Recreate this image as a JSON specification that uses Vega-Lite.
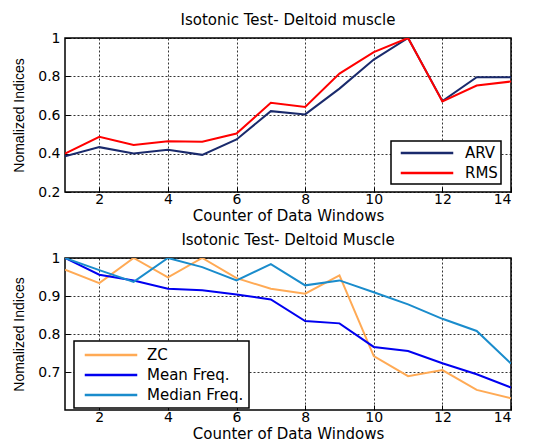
{
  "$schema": "https://vega.github.io/schema/vega-lite/v6.json",
  "background": "white",
  "padding": {"left": 11, "top": 12, "right": 14, "bottom": 2},
  "spacing": 8,
  "config": {
    "font": "DejaVu Sans",
    "view": {"stroke": "black", "strokeWidth": 1.5},
    "title": {"font": "DejaVu Sans", "fontSize": 15, "fontWeight": "normal", "color": "black", "offset": 3},
    "axis": {
      "labelFont": "DejaVu Sans",
      "labelFontSize": 14,
      "labelColor": "black",
      "titleFont": "DejaVu Sans",
      "titleFontSize": 15,
      "titleFontWeight": "normal",
      "titleColor": "black",
      "domain": false,
      "tickColor": "black",
      "tickSize": -5,
      "tickWidth": 1,
      "labelPadding": 10,
      "grid": true,
      "gridColor": "black",
      "gridDash": [2, 2],
      "gridOpacity": 1,
      "gridWidth": 0.8
    },
    "axisX": {"labelPadding": 5, "titlePadding": 2},
    "axisY": {"titleFont": "Liberation Sans", "titleFontSize": 14, "titlePadding": 11},
    "legend": {
      "labelFont": "DejaVu Sans",
      "labelFontSize": 15,
      "labelColor": "black",
      "strokeColor": "black",
      "strokeWidth": 1.5,
      "fillColor": "white",
      "symbolType": "M-3.5,0H3.5",
      "symbolStrokeWidth": 2.5,
      "symbolSize": 225,
      "rowPadding": 3,
      "title": null
    }
  },
  "datasets": {
    "amplitude": [
      {"window": 1, "index": "ARV", "value": 0.385},
      {"window": 2, "index": "ARV", "value": 0.433},
      {"window": 3, "index": "ARV", "value": 0.400},
      {"window": 4, "index": "ARV", "value": 0.420},
      {"window": 5, "index": "ARV", "value": 0.393},
      {"window": 6, "index": "ARV", "value": 0.473},
      {"window": 7, "index": "ARV", "value": 0.620},
      {"window": 8, "index": "ARV", "value": 0.603},
      {"window": 9, "index": "ARV", "value": 0.737},
      {"window": 10, "index": "ARV", "value": 0.888},
      {"window": 11, "index": "ARV", "value": 1.0},
      {"window": 12, "index": "ARV", "value": 0.672},
      {"window": 13, "index": "ARV", "value": 0.796},
      {"window": 14, "index": "ARV", "value": 0.796},
      {"window": 1, "index": "RMS", "value": 0.400},
      {"window": 2, "index": "RMS", "value": 0.487},
      {"window": 3, "index": "RMS", "value": 0.444},
      {"window": 4, "index": "RMS", "value": 0.464},
      {"window": 5, "index": "RMS", "value": 0.461},
      {"window": 6, "index": "RMS", "value": 0.504},
      {"window": 7, "index": "RMS", "value": 0.663},
      {"window": 8, "index": "RMS", "value": 0.642},
      {"window": 9, "index": "RMS", "value": 0.815},
      {"window": 10, "index": "RMS", "value": 0.927},
      {"window": 11, "index": "RMS", "value": 1.0},
      {"window": 12, "index": "RMS", "value": 0.670},
      {"window": 13, "index": "RMS", "value": 0.753},
      {"window": 14, "index": "RMS", "value": 0.774}
    ],
    "frequency": [
      {"window": 1, "index": "ZC", "value": 0.969},
      {"window": 2, "index": "ZC", "value": 0.934},
      {"window": 3, "index": "ZC", "value": 1.0},
      {"window": 4, "index": "ZC", "value": 0.949},
      {"window": 5, "index": "ZC", "value": 1.0},
      {"window": 6, "index": "ZC", "value": 0.947},
      {"window": 7, "index": "ZC", "value": 0.919},
      {"window": 8, "index": "ZC", "value": 0.906},
      {"window": 9, "index": "ZC", "value": 0.954},
      {"window": 10, "index": "ZC", "value": 0.742},
      {"window": 11, "index": "ZC", "value": 0.689},
      {"window": 12, "index": "ZC", "value": 0.705},
      {"window": 13, "index": "ZC", "value": 0.653},
      {"window": 14, "index": "ZC", "value": 0.631},
      {"window": 1, "index": "Mean Freq.", "value": 1.0},
      {"window": 2, "index": "Mean Freq.", "value": 0.956},
      {"window": 3, "index": "Mean Freq.", "value": 0.941},
      {"window": 4, "index": "Mean Freq.", "value": 0.919},
      {"window": 5, "index": "Mean Freq.", "value": 0.915},
      {"window": 6, "index": "Mean Freq.", "value": 0.904},
      {"window": 7, "index": "Mean Freq.", "value": 0.891},
      {"window": 8, "index": "Mean Freq.", "value": 0.834},
      {"window": 9, "index": "Mean Freq.", "value": 0.828},
      {"window": 10, "index": "Mean Freq.", "value": 0.766},
      {"window": 11, "index": "Mean Freq.", "value": 0.755},
      {"window": 12, "index": "Mean Freq.", "value": 0.723},
      {"window": 13, "index": "Mean Freq.", "value": 0.694},
      {"window": 14, "index": "Mean Freq.", "value": 0.659},
      {"window": 1, "index": "Median Freq.", "value": 1.0},
      {"window": 2, "index": "Median Freq.", "value": 0.968},
      {"window": 3, "index": "Median Freq.", "value": 0.937},
      {"window": 4, "index": "Median Freq.", "value": 1.0},
      {"window": 5, "index": "Median Freq.", "value": 0.976},
      {"window": 6, "index": "Median Freq.", "value": 0.941},
      {"window": 7, "index": "Median Freq.", "value": 0.984},
      {"window": 8, "index": "Median Freq.", "value": 0.928},
      {"window": 9, "index": "Median Freq.", "value": 0.941},
      {"window": 10, "index": "Median Freq.", "value": 0.910},
      {"window": 11, "index": "Median Freq.", "value": 0.878},
      {"window": 12, "index": "Median Freq.", "value": 0.840},
      {"window": 13, "index": "Median Freq.", "value": 0.808},
      {"window": 14, "index": "Median Freq.", "value": 0.722}
    ]
  },
  "vconcat": [
    {
      "title": "Isotonic Test- Deltoid muscle",
      "width": 446,
      "height": 154,
      "data": {"name": "amplitude"},
      "mark": {"type": "line", "strokeWidth": 2, "clip": true},
      "encoding": {
        "x": {
          "field": "window",
          "type": "quantitative",
          "scale": {"domain": [1, 14], "nice": false},
          "axis": {"title": "Counter of Data Windows", "values": [2, 4, 6, 8, 10, 12, 14]}
        },
        "y": {
          "field": "value",
          "type": "quantitative",
          "scale": {"domain": [0.2, 1], "nice": false, "zero": false},
          "axis": {"title": "Nomalized Indices", "values": [0.2, 0.4, 0.6, 0.8, 1], "format": "~g"}
        },
        "color": {
          "field": "index",
          "type": "nominal",
          "scale": {"domain": ["ARV", "RMS"], "range": ["#1a2a6c", "#ff0000"]},
          "legend": {"orient": "none", "legendX": 326, "legendY": 103, "padding": 3, "symbolOffset": 24, "labelOffset": 29}
        }
      }
    },
    {
      "title": "Isotonic Test- Deltoid Muscle",
      "width": 446,
      "height": 152,
      "data": {"name": "frequency"},
      "mark": {"type": "line", "strokeWidth": 2, "clip": true},
      "encoding": {
        "x": {
          "field": "window",
          "type": "quantitative",
          "scale": {"domain": [1, 14], "nice": false},
          "axis": {"title": "Counter of Data Windows", "values": [2, 4, 6, 8, 10, 12, 14]}
        },
        "y": {
          "field": "value",
          "type": "quantitative",
          "scale": {"domain": [0.6, 1], "nice": false, "zero": false},
          "axis": {"title": "Nomalized Indices", "values": [0.7, 0.8, 0.9, 1], "format": "~g"}
        },
        "color": {
          "field": "index",
          "type": "nominal",
          "scale": {"domain": ["ZC", "Mean Freq.", "Median Freq."], "range": ["#ffaa55", "#0000f0", "#1a8ccc"]},
          "legend": {"orient": "none", "legendX": 9, "legendY": 83, "padding": 5, "symbolOffset": 23, "labelOffset": 27}
        }
      }
    }
  ],
  "resolve": {"scale": {"color": "independent"}, "legend": {"color": "independent"}}
}
